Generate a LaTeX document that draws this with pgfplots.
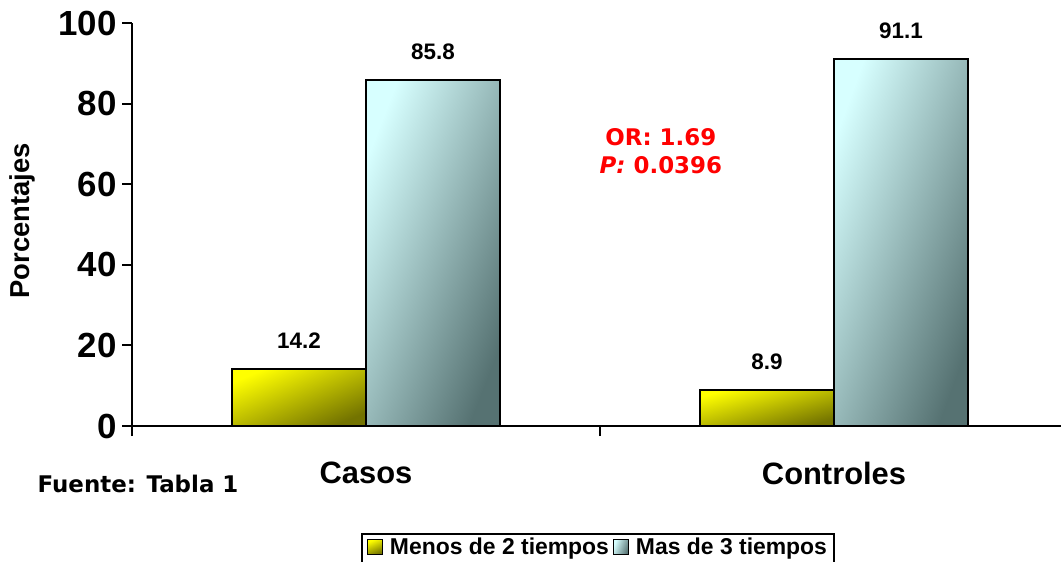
\documentclass[border=0pt]{standalone}
\usepackage{pgfplots}
\pgfplotsset{compat=1.18}
\usepackage{fontspec}
\setmainfont{Liberation Sans}
\newfontfamily\verd{DejaVu Sans}
\definecolor{yelTop}{RGB}{255,255,0}
\definecolor{yelBot}{RGB}{115,115,0}
\definecolor{cyTop}{RGB}{215,255,255}
\definecolor{cyBot}{RGB}{86,114,114}
\pgfplotsset{
  yelbar/.style={ybar, bar width=134bp, bar shift=0pt, draw=black, line width=2.5bp,
    top color=yelTop, bottom color=yelBot, shading angle=#1},
  cybar/.style={ybar, bar width=134bp, bar shift=0pt, draw=black, line width=2.5bp,
    top color=cyTop, bottom color=cyBot, shading angle=#1},
}
\begin{document}
\begin{tikzpicture}
\path[use as bounding box] (0,0) rectangle (1061bp,562bp);
\begin{axis}[
  at={(132bp,136bp)}, anchor=south west,
  scale only axis, width=929bp, height=403bp,
  xmin=0, xmax=1.985, ymin=0, ymax=100,
  clip=false,
  axis lines*=left,
  axis line style={line width=2bp},
  /pgf/number format/assume math mode=true,
  tick align=outside,
  major tick length=10bp,
  tick style={line width=2bp, black},
  ytick={0,20,40,60,80,100},
  yticklabel style={font=\bfseries\fontsize{35}{35}\selectfont, xshift=-2bp},
  xtick={0,1,2},
  xticklabels={},
  extra x ticks={0.5,1.5},
  extra x tick labels={Casos,Controles},
  extra x tick style={major tick length=0pt,
    xticklabel style={font=\bfseries\fontsize{31}{31}\selectfont, anchor=center, yshift=-47bp}},
  ylabel={Porcentajes},
  ylabel style={font=\bfseries\fontsize{27.5}{27.5}\selectfont, at={(axis description cs:-0.1184,0.509)}, anchor=center},
  nodes near coords,
  every node near coord/.append style={font=\bfseries\fontsize{22.5}{22.5}\selectfont, anchor=center, yshift=28bp, black},
  legend style={at={(axis description cs:0.5016,-0.2655)}, anchor=north,
    legend columns=2, draw=black, line width=2bp,
    font=\bfseries\fontsize{23}{23}\selectfont, inner xsep=5bp, inner ysep=3bp,
    nodes={inner xsep=2bp, inner ysep=1bp},
    /tikz/every even column/.append style={column sep=2bp}},
  legend image code/.code={\draw[#1, draw=black, line width=1.5bp] (0bp,-7.5bp) rectangle (15bp,7.5bp); \path (19bp,-24bp);},
]
% Casos
\addplot[yelbar=23.1] coordinates {(0.35684,14.2)};
\addlegendentry{Menos de 2 tiempos}
\addplot[cybar=68.8] coordinates {(0.64316,85.8)};
\addlegendentry{Mas de 3 tiempos}
% Controles
\addplot[yelbar=15.0, forget plot] coordinates {(1.35684,8.9)};
\addplot[cybar=70.0, forget plot] coordinates {(1.64316,91.1)};
\node[text=red, font=\verd\bfseries\fontsize{23}{29}\selectfont, align=center]
  at (axis cs:1.13,68.2) {OR: 1.69\\\textit{P:} 0.0396};
\end{axis}
\node[font=\verd\bfseries\fontsize{23}{23}\selectfont] at (138bp,78bp) {Fuente: Tabla 1};
\end{tikzpicture}
\end{document}
